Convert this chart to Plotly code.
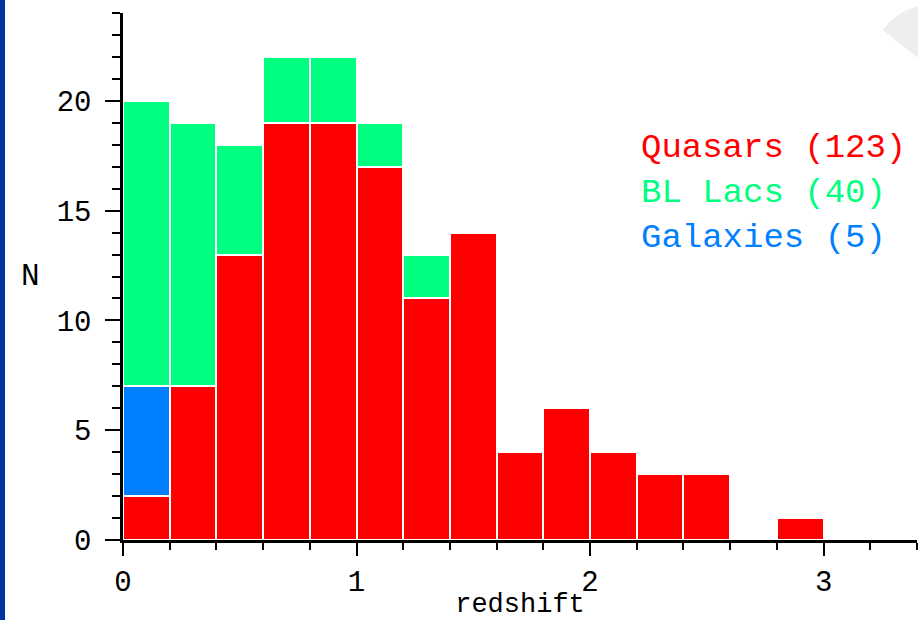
import plotly.graph_objects as go

# Redshift histogram, bins of width 0.2 (bin centres)
bin_centers = [0.1, 0.3, 0.5, 0.7, 0.9, 1.1, 1.3, 1.5, 1.7, 1.9, 2.1, 2.3, 2.5, 2.7, 2.9]
quasars = [2, 7, 13, 19, 19, 17, 11, 14, 4, 6, 4, 3, 3, 0, 1]
galaxies = [5, 0, 0, 0, 0, 0, 0, 0, 0, 0, 0, 0, 0, 0, 0]
bl_lacs = [13, 12, 5, 3, 3, 2, 2, 0, 0, 0, 0, 0, 0, 0, 0]

RED = "#ff0000"
GREEN = "#00ff80"
BLUE = "#0080ff"
FONT = "Liberation Mono"

W, H = 918, 620
ML, MR, MT, MB = 123, 1, 13, 80
PW, PH = W - ML - MR, H - MT - MB


def px(x):
    return (x - ML) / PW


def py(y):
    return (H - MB - y) / PH


fig = go.Figure()
for name, vals, col in [("Quasars", quasars, RED),
                        ("Galaxies", galaxies, BLUE),
                        ("BL Lacs", bl_lacs, GREEN)]:
    fig.add_trace(go.Bar(
        x=bin_centers, y=vals, width=0.2, name=name,
        marker=dict(color=col, line=dict(color="white", width=2)),
        showlegend=False,
    ))

labels = [(f"Quasars ({sum(quasars)})", RED, 148),
          (f"BL Lacs ({sum(bl_lacs)})", GREEN, 193),
          (f"Galaxies ({sum(galaxies)})", BLUE, 238)]
for text, col, ypix in labels:
    fig.add_annotation(text=text, x=px(639), y=py(ypix), xref="paper", yref="paper",
                       xanchor="left", yanchor="middle", showarrow=False,
                       font=dict(family=FONT, size=34, color=col))

fig.add_annotation(text="N", x=px(30), y=py(276), xref="paper", yref="paper",
                   xanchor="center", yanchor="middle", showarrow=False,
                   font=dict(family=FONT, size=31, color="black"))

# left border strip and the light grey wedge in the corner
fig.add_shape(type="rect", xref="paper", yref="paper",
              x0=px(0), x1=px(5), y0=py(0), y1=py(H),
              fillcolor="#0033a0", line=dict(width=0), layer="below")
fig.add_shape(type="path", xref="paper", yref="paper",
              path=(f"M {px(883)},{py(30)} Q {px(896)},{py(12)} {px(918)},{py(6)} "
                    f"L {px(918)},{py(58)} Z"),
              fillcolor="#eeeeee", line=dict(width=0), layer="below")

fig.update_layout(
    width=W, height=H,
    margin=dict(l=ML, r=MR, t=MT, b=MB, autoexpand=False),
    barmode="stack",
    bargap=0,
    paper_bgcolor="white",
    plot_bgcolor="white",
    font=dict(family=FONT, color="black"),
    xaxis=dict(
        range=[0, 3.4], dtick=1, tick0=0, automargin=False,
        showgrid=False, zeroline=False,
        showline=True, linecolor="black", linewidth=2.5,
        ticks="outside", ticklen=13, tickwidth=2, tickcolor="black",
        tickfont=dict(family=FONT, size=29),
        minor=dict(dtick=0.2, ticks="outside", ticklen=7, tickwidth=2,
                   tickcolor="black", showgrid=False),
        title=dict(text="redshift", font=dict(family=FONT, size=27), standoff=2),
    ),
    yaxis=dict(
        range=[0, 24], dtick=5, tick0=0, automargin=False,
        showgrid=False, zeroline=False,
        showline=True, linecolor="black", linewidth=2.5,
        ticks="outside", ticklen=15, tickwidth=2, tickcolor="black",
        tickfont=dict(family=FONT, size=29), ticklabelstandoff=8,
        minor=dict(dtick=1, ticks="outside", ticklen=8, tickwidth=2,
                   tickcolor="black", showgrid=False),
    ),
)

fig.write_html("out.html")
